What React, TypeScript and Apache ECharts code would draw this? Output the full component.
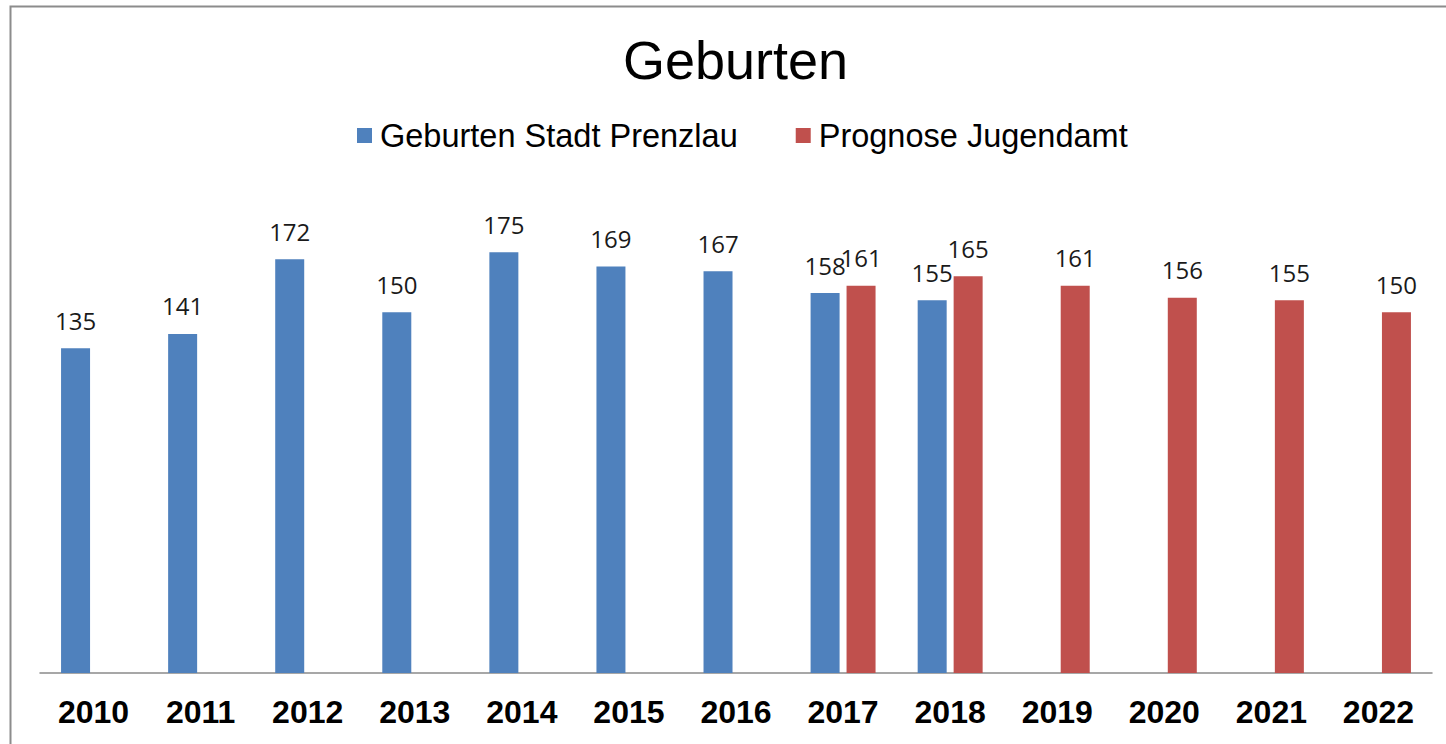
import React, { useEffect, useRef } from "react";
import * as echarts from "echarts";

const categories = ["2010", "2011", "2012", "2013", "2014", "2015", "2016", "2017", "2018", "2019", "2020", "2021", "2022"];
const geburtenStadt = [135, 141, 172, 150, 175, 169, 167, 158, 155, null, null, null, null];
const prognoseJugendamt = [null, null, null, null, null, null, null, 161, 165, 161, 156, 155, 150];
const seriesNames = ["Geburten Stadt Prenzlau", "Prognose Jugendamt"];
const titleText = "Geburten";

export default function App() {
  const ref = useRef<HTMLDivElement>(null);
  useEffect(() => {
    document.body.style.margin = "0";
    const chart = echarts.init(ref.current!, null, { renderer: "svg" });
    const labelStyle = {
      show: true,
      position: "top" as const,
      distance: 16,
      fontFamily: "Open Sans",
      fontSize: 24,
      color: "#1a1a1a",
    };
    chart.setOption({
      animation: false,
      backgroundColor: "#ffffff",
      title: {
        text: titleText,
        left: 618,
        top: 28,
        itemGap: 0,
        textStyle: { fontFamily: "Liberation Sans", fontSize: 54, fontWeight: "normal", color: "#000" },
      },
      legend: {
        data: seriesNames,
        top: 114,
        left: 352,
        icon: "rect",
        itemWidth: 15,
        itemHeight: 15,
        itemGap: 58,
        textStyle: { fontFamily: "Liberation Sans", fontSize: 32.5, color: "#000", padding: [0, 0, 0, 3] },
      },
      graphic: [
        {
          type: "rect",
          shape: { x: 10.5, y: 6.5, width: 1460, height: 760 },
          style: { fill: "none", stroke: "#8c8c8c", lineWidth: 2 },
          silent: true,
        },
      ],
      grid: { left: 40, right: 14, top: 192, bottom: 71 },
      xAxis: {
        type: "category",
        data: categories,
        axisLine: { show: true, lineStyle: { color: "#8a8a8a", width: 1.5 } },
        axisTick: { show: false },
        axisLabel: {
          fontFamily: "Liberation Sans",
          fontWeight: "bold",
          fontSize: 32,
          color: "#000",
          margin: 23,
        },
      },
      yAxis: {
        type: "value",
        min: 0,
        max: 200,
        show: false,
        splitLine: { show: false },
      },
      series: [
        {
          name: seriesNames[0],
          type: "bar",
          data: geburtenStadt,
          barWidth: 29,
          barGap: "24%",
          itemStyle: { color: "#4f81bd" },
          label: labelStyle,
        },
        {
          name: seriesNames[1],
          type: "bar",
          data: prognoseJugendamt,
          barWidth: 29,
          barGap: "24%",
          itemStyle: { color: "#c0504d" },
          label: labelStyle,
        },
      ],
    });
    return () => chart.dispose();
  }, []);
  return <div ref={ref} style={{ position: "fixed", left: 0, top: 0, width: 1446, height: 744 }} />;
}
